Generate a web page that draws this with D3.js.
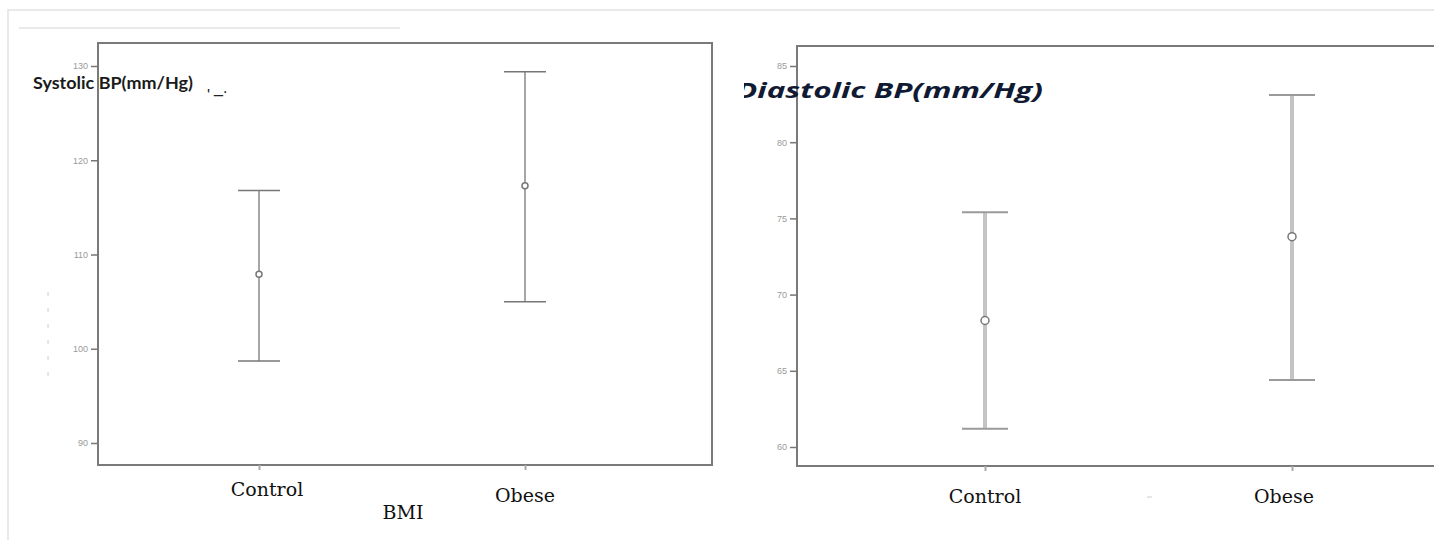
<!DOCTYPE html>
<html>
<head>
<meta charset="utf-8">
<script src="https://cdn.jsdelivr.net/npm/d3@7"></script>
<style>
  body { margin: 0; background: #fff; }
  .tick text { fill: #9a9a9a; font-family: "Liberation Sans", sans-serif; font-size: 9px; }
  .grupo { font-family: "DejaVu Serif", serif; font-size: 19px; fill: #111; }
</style>
</head>
<body>
<div id="graf"></div>
<script>
// datos
const grupos = ["Control", "Obese"]

const sistolicaMedia = [107.9, 117.3]
const sistolicaBaja = [98.7, 105.0]
const sistolicaAlta = [116.8, 129.4]
const sistolicaTicks = [90, 100, 110, 120, 130]

const diastolicaMedia = [68.3, 73.8]
const diastolicaBaja = [61.2, 64.4]
const diastolicaAlta = [75.4, 83.1]
const diastolicaTicks = [60, 65, 70, 75, 80, 85]

const anchoTotal = 1434
const altoTotal = 540

const svg = d3.select("#graf")
  .append("svg")
  .attr("width", anchoTotal)
  .attr("height", altoTotal)

// marco exterior de la pagina
svg.append("path")
  .attr("d", `M8,${altoTotal} V10 H${anchoTotal}`)
  .attr("fill", "none")
  .attr("stroke", "#e2e2e2")
  .attr("stroke-width", 1.5)
svg.append("line")
  .attr("x1", 19).attr("x2", 400).attr("y1", 28).attr("y2", 28)
  .attr("stroke", "#e3e3e3").attr("stroke-width", 1.5)

svg.append("defs").append("clipPath").attr("id", "recorte")
  .append("rect").attr("x", 744).attr("y", 0).attr("width", 700).attr("height", 540)

function panel(cfg) {
  const datos = grupos.map((g, i) => ({
    grupo: g, media: cfg.media[i], baja: cfg.baja[i], alta: cfg.alta[i]
  }))

  const x = d3.scalePoint().domain(grupos).range(cfg.xRango)
  const y = d3.scaleLinear()
    .domain(d3.extent(cfg.ticks))
    .range(cfg.yRango)

  const g = svg.append("g")

  // marco
  g.append("rect")
    .attr("x", cfg.marco[0])
    .attr("y", cfg.marco[1])
    .attr("width", cfg.marco[2] - cfg.marco[0])
    .attr("height", cfg.marco[3] - cfg.marco[1])
    .attr("fill", "none")
    .attr("stroke", "#7a7a7a")
    .attr("stroke-width", 2)

  // eje y
  const yAxis = d3.axisLeft(y).tickValues(cfg.ticks).tickSize(7).tickFormat(d3.format("d"))
  g.append("g")
    .attr("transform", `translate(${cfg.marco[0]}, 0)`)
    .call(yAxis)
    .call(a => a.select(".domain").remove())
    .call(a => a.selectAll(".tick line").attr("stroke", "#777").attr("stroke-width", 1.5))

  // eje x: solo marcas pequenas
  const xAxis = d3.axisBottom(x).tickSize(5).tickFormat("")
  g.append("g")
    .attr("transform", `translate(0, ${cfg.marco[3]})`)
    .call(xAxis)
    .call(a => a.select(".domain").remove())
    .call(a => a.selectAll(".tick line").attr("stroke", "#aaa").attr("stroke-width", 2))

  // barras de error
  const barras = g.selectAll(".barra").data(datos).enter().append("g")
  barras.append("line")
    .attr("x1", d => x(d.grupo)).attr("x2", d => x(d.grupo))
    .attr("y1", d => y(d.alta)).attr("y2", d => y(d.baja))
    .attr("stroke", cfg.colorLinea).attr("stroke-width", cfg.grosorLinea)
  barras.selectAll(".cap")
    .data(d => [d.alta, d.baja].map(v => ({ grupo: d.grupo, v })))
    .enter().append("line")
    .attr("x1", d => x(d.grupo) - cfg.cap).attr("x2", d => x(d.grupo) + cfg.cap)
    .attr("y1", d => y(d.v)).attr("y2", d => y(d.v))
    .attr("stroke", cfg.colorCap).attr("stroke-width", cfg.grosorCap)
  barras.append("circle")
    .attr("cx", d => x(d.grupo)).attr("cy", d => y(d.media))
    .attr("r", cfg.radio)
    .attr("fill", "#fff")
    .attr("stroke", "#777")
    .attr("stroke-width", 1.5)

  // etiquetas de grupo
  g.selectAll(".grupo").data(grupos).enter().append("text")
    .attr("class", "grupo")
    .attr("x", (d, i) => x(d) + cfg.etqDx[i])
    .attr("y", (d, i) => cfg.etqY[i])
    .attr("text-anchor", "middle")
    .text(d => d)

  return g
}

panel({
  media: sistolicaMedia, baja: sistolicaBaja, alta: sistolicaAlta, ticks: sistolicaTicks,
  xRango: [259, 525], yRango: [443, 66], marco: [98, 43, 712, 465],
  colorLinea: "#888", grosorLinea: 1.5, colorCap: "#777", grosorCap: 1.5, cap: 21, radio: 3,
  etqDx: [8, 0], etqY: [496, 502]
})

panel({
  media: diastolicaMedia, baja: diastolicaBaja, alta: diastolicaAlta, ticks: diastolicaTicks,
  xRango: [985, 1292], yRango: [447, 66], marco: [797, 46, 1450, 466],
  colorLinea: "#c4c4c4", grosorLinea: 4, colorCap: "#9a9a9a", grosorCap: 2, cap: 23, radio: 4,
  etqDx: [0, -8], etqY: [503, 503]
})

// titulos
svg.append("text")
  .attr("x", 33).attr("y", 89)
  .attr("font-family", "Lato, sans-serif")
  .attr("font-weight", "bold")
  .attr("font-size", 17)
  .attr("fill", "#1a1a1a")
  .attr("textLength", 160)
  .attr("lengthAdjust", "spacingAndGlyphs")
  .text("Systolic BP(mm/Hg)")
svg.append("text")
  .attr("x", 207).attr("y", 101)
  .attr("font-family", "'Liberation Sans', sans-serif")
  .attr("font-size", 16).attr("fill", "#222")
  .text("'")
svg.append("text")
  .attr("x", 214).attr("y", 93)
  .attr("font-family", "'Liberation Sans', sans-serif")
  .attr("font-size", 16).attr("fill", "#222")
  .text("_.")

svg.append("text")
  .attr("x", 736).attr("y", 98)
  .attr("clip-path", "url(#recorte)")
  .attr("font-family", "'Open Sans', sans-serif")
  .attr("font-weight", "bold")
  .attr("font-style", "italic")
  .attr("font-size", 21)
  .attr("fill", "#111a33")
  .attr("textLength", 307)
  .attr("lengthAdjust", "spacingAndGlyphs")
  .text("Diastolic BP(mm/Hg)")

svg.append("text")
  .attr("x", 403).attr("y", 519)
  .attr("class", "grupo")
  .attr("text-anchor", "middle")
  .text("BMI")

// restos pequenos del original
svg.append("line")
  .attr("x1", 48).attr("x2", 48).attr("y1", 292).attr("y2", 378)
  .attr("stroke", "#ccc").attr("stroke-dasharray", "4,12")
svg.append("line")
  .attr("x1", 1147).attr("x2", 1152).attr("y1", 497).attr("y2", 497)
  .attr("stroke", "#ccc")
</script>
</body>
</html>
